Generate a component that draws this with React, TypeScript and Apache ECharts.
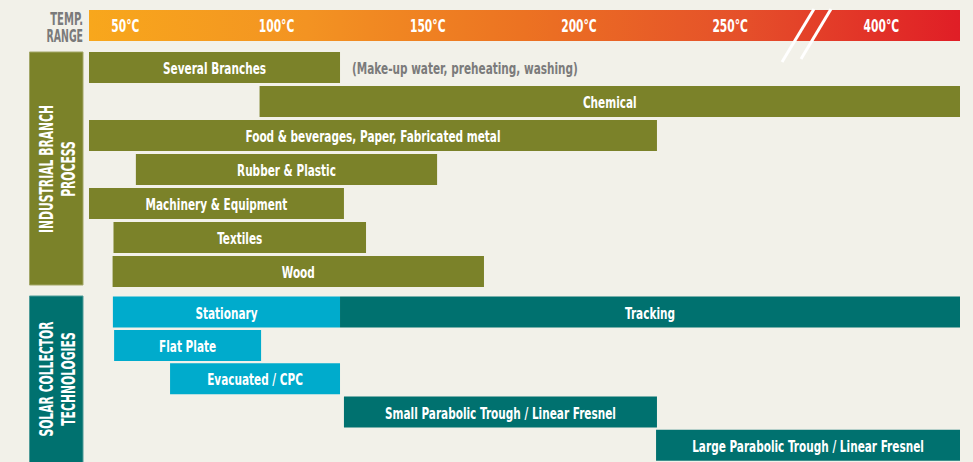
import React, { useEffect, useRef } from "react";
import * as echarts from "echarts";

// Temperature scale (virtual: the "400°C" label sits at 300 after the axis break)
const tickValues = [50, 100, 150, 200, 250, 300];
const tickLabels = ["50°C", "100°C", "150°C", "200°C", "250°C", "400°C"];

// Industrial branch processes
const industryLabels = [
  "Several Branches",
  "Chemical",
  "Food & beverages, Paper, Fabricated metal",
  "Rubber & Plastic",
  "Machinery & Equipment",
  "Textiles",
  "Wood",
];
const industryStart = [38, 94.4, 38, 53.5, 38, 46.1, 45.8];
const industryEnd = [121, 326, 225.8, 153.1, 122.3, 129.6, 168.6];
const industryNote = ["(Make-up water, preheating, washing)", "", "", "", "", "", ""];

// Solar collector technologies
const collectorRowNames = ["Stationary / Tracking", "Flat Plate", "Evacuated / CPC", "Small PT", "Large PT"];
const collectorLabels = [
  "Stationary",
  "Tracking",
  "Flat Plate",
  "Evacuated / CPC",
  "Small Parabolic Trough / Linear Fresnel",
  "Large Parabolic Trough / Linear Fresnel",
];
const collectorRow = [0, 0, 1, 2, 3, 4];
const collectorStart = [45.9, 121, 46.3, 64.8, 122.3, 225.5];
const collectorEnd = [121, 326, 94.9, 121, 225.8, 326];
const collectorType = ["stationary", "tracking", "stationary", "stationary", "tracking", "tracking"];

const FONT = "'Liberation Sans Narrow','DejaVu Sans Condensed','DejaVu Sans',sans-serif";
const OLIVE = "#7b8229";
const TEAL = "#00716f";
const CYAN = "#00abcc";
const BG = "#f2f1e9";
const BAR_H = 31;
const SQ = 0.73; // horizontal squeeze to mimic the condensed typeface

function makeRender(labels: string[], colorOf: (i: number) => string, notes?: string[]) {
  return (params: any, api: any) => {
    const i = params.dataIndex;
    const p0 = api.coord([api.value(0), api.value(2)]);
    const p1 = api.coord([api.value(1), api.value(2)]);
    const children: any[] = [
      {
        type: "rect",
        shape: { x: p0[0], y: p0[1] - BAR_H / 2, width: p1[0] - p0[0], height: BAR_H },
        style: { fill: colorOf(i) },
      },
      {
        type: "text",
        x: (p0[0] + p1[0]) / 2,
        y: p0[1] + 1,
        scaleX: SQ,
        style: {
          text: labels[i],
          fill: "#ffffff",
          font: `bold 16px ${FONT}`,
          align: "center",
          verticalAlign: "middle",
        },
      },
    ];
    if (notes && notes[i]) {
      children.push({
        type: "text",
        x: p1[0] + 12,
        y: p0[1] + 1,
        scaleX: SQ,
        style: {
          text: notes[i],
          fill: "#7b7b7b",
          font: `bold 16px ${FONT}`,
          align: "left",
          verticalAlign: "middle",
        },
      });
    }
    return { type: "group", children };
  };
}

export default function App() {
  const ref = useRef<HTMLDivElement>(null);
  useEffect(() => {
    document.body.style.margin = "0";
    const chart = echarts.init(ref.current!, null, { renderer: "svg" });
    const industryData = industryLabels.map((_, i) => [industryStart[i], industryEnd[i], i]);
    const collectorData = collectorLabels.map((_, i) => [collectorStart[i], collectorEnd[i], collectorRow[i]]);
    const tickData = tickValues.map((v) => [v, 0]);
    const option: any = {
      animation: false,
      backgroundColor: BG,
      grid: [
        { left: 89, right: 13, top: 50.5, height: 238 },
        { left: 89, right: 13, top: 295.4, height: 171.25 },
      ],
      xAxis: [
        {
          gridIndex: 0,
          type: "value",
          position: "top",
          min: 38,
          max: 326,
          axisLine: { show: false },
          axisTick: { show: false },
          splitLine: { show: false },
          axisLabel: { show: false },
        },
        {
          gridIndex: 1,
          type: "value",
          min: 38,
          max: 326,
          show: false,
          splitLine: { show: false },
        },
      ],
      yAxis: [
        { gridIndex: 0, type: "category", data: industryLabels, inverse: true, show: false },
        { gridIndex: 1, type: "category", data: collectorRowNames, inverse: true, show: false },
      ],
      graphic: [
        {
          type: "rect",
          z: 0,
          shape: { x: 89, y: 10, width: 871, height: 31 },
          style: {
            fill: new echarts.graphic.LinearGradient(0, 0, 1, 0, [
              { offset: 0, color: "#f8a71c" },
              { offset: 0.25, color: "#f39322" },
              { offset: 0.5, color: "#ec7222" },
              { offset: 0.75, color: "#e5502a" },
              { offset: 1, color: "#e01e26" },
            ]),
          },
        },
        {
          type: "line",
          z: 20,
          shape: { x1: 814, y1: 9, x2: 782, y2: 62 },
          style: { stroke: "#ffffff", lineWidth: 3 },
        },
        {
          type: "line",
          z: 20,
          shape: { x1: 831, y1: 9, x2: 801, y2: 59 },
          style: { stroke: "#ffffff", lineWidth: 3 },
        },
        {
          type: "text",
          x: 83,
          y: 18.5,
          scaleX: 0.62,
          style: {
            text: "TEMP.",
            fill: "#7a7a7a",
            font: `bold 18px ${FONT}`,
            align: "right",
            verticalAlign: "middle",
          },
        },
        {
          type: "text",
          x: 83,
          y: 35,
          scaleX: 0.58,
          style: {
            text: "RANGE",
            fill: "#7a7a7a",
            font: `bold 18px ${FONT}`,
            align: "right",
            verticalAlign: "middle",
          },
        },
        {
          type: "rect",
          shape: { x: 29.5, y: 52, width: 53.5, height: 233 },
          style: { fill: OLIVE, stroke: "#a3a768", lineWidth: 1 },
        },
        {
          type: "text",
          x: 57.5,
          y: 169,
          rotation: Math.PI / 2,
          scaleX: 0.6,
          style: {
            text: "INDUSTRIAL BRANCH\nPROCESS",
            fill: "#ffffff",
            font: `bold 20px ${FONT}`,
            lineHeight: 22,
            align: "center",
            verticalAlign: "middle",
          },
        },
        {
          type: "rect",
          shape: { x: 29.5, y: 296, width: 53.5, height: 170 },
          style: { fill: TEAL, stroke: "#4f9c99", lineWidth: 1 },
        },
        {
          type: "text",
          x: 57.5,
          y: 379,
          rotation: Math.PI / 2,
          scaleX: 0.6,
          style: {
            text: "SOLAR COLLECTOR\nTECHNOLOGIES",
            fill: "#ffffff",
            font: `bold 20px ${FONT}`,
            lineHeight: 22,
            align: "center",
            verticalAlign: "middle",
          },
        },
      ],
      series: [
        {
          type: "custom",
          name: "Temperature labels",
          xAxisIndex: 0,
          yAxisIndex: 0,
          z: 10,
          encode: { x: 0, y: 1 },
          data: tickData,
          renderItem: (params: any, api: any) => {
            const p = api.coord([api.value(0), 0]);
            return {
              type: "text",
              x: p[0],
              y: 26,
              scaleX: 0.66,
              style: {
                text: tickLabels[params.dataIndex],
                fill: "#ffffff",
                font: `bold 18px ${FONT}`,
                align: "center",
                verticalAlign: "middle",
              },
            };
          },
        },
        {
          type: "custom",
          xAxisIndex: 0,
          yAxisIndex: 0,
          encode: { x: [0, 1], y: 2 },
          data: industryData,
          renderItem: makeRender(industryLabels, () => OLIVE, industryNote),
        },
        {
          type: "custom",
          xAxisIndex: 1,
          yAxisIndex: 1,
          encode: { x: [0, 1], y: 2 },
          data: collectorData,
          renderItem: makeRender(collectorLabels, (i) => (collectorType[i] === "tracking" ? TEAL : CYAN)),
        },
      ],
    };
    chart.setOption(option);
    return () => chart.dispose();
  }, []);
  return (
    <div
      ref={ref}
      style={{ position: "fixed", left: 0, top: 0, width: 973, height: 462 }}
    />
  );
}
